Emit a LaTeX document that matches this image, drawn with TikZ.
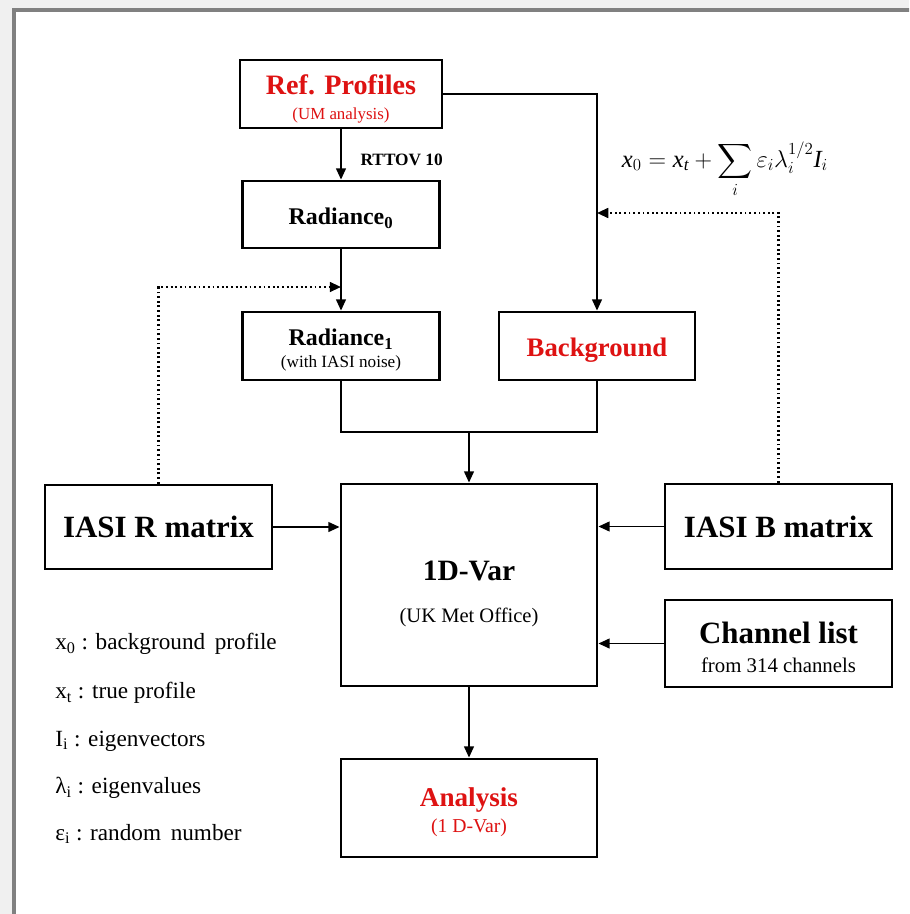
\documentclass[tikz,border=0pt]{standalone}
\usepackage{fontspec}
\setmainfont{Liberation Serif}
\usepackage{amsmath}
\usepackage{xcolor}
\usetikzlibrary{positioning, arrows.meta}
\definecolor{titlered}{RGB}{222,18,18}

\begin{document}
\begin{tikzpicture}[
    x=0.025cm, y=-0.025cm,
    box/.style={draw, line width=2pt, inner sep=0pt, align=center},
    conn/.style={line width=1.2pt},
    arr/.style={conn, -{Triangle[length=8pt, width=7pt]}},
    dotarr/.style={line width=1.5pt, dash pattern=on 1.3pt off 2pt, -{Triangle[length=8pt, width=7pt]}},
    legend/.style={anchor=west, inner sep=0pt, font=\fontsize{16.5}{19}\selectfont}
]
% frame
\useasboundingbox (0,0) rectangle (909,914);
\clip (0,0) rectangle (909,914);
\fill[gray!12] (0,0) rectangle (909,914);
\fill[white] (14,10) rectangle (930,930);
\draw[gray, line width=3pt] (14,930) -- (14,10) -- (930,10);

% boxes
\node[box, minimum width=5.05cm, minimum height=1.7cm, text=titlered,
      font=\fontsize{20}{18}\selectfont] (ref) at (341,94)
    {\rule{0pt}{21pt}\textbf{Ref. Profiles}\\{\fontsize{12}{14}\selectfont (UM analysis)}};
\node[box, minimum width=4.925cm, minimum height=1.675cm,
      font=\fontsize{17}{20}\selectfont\bfseries] (rad0) at (341,214.5)
    {\rule{0pt}{17pt}Radiance\textsubscript{0}};
\node[box, minimum width=4.925cm, minimum height=1.7cm,
      font=\fontsize{17}{15.5}\selectfont] (rad1) at (341,346)
    {\rule{0pt}{18pt}\textbf{Radiance\textsubscript{1}}\\{\fontsize{12.2}{14}\selectfont (with IASI noise)}};
\node[box, minimum width=4.9cm, minimum height=1.7cm, text=titlered,
      font=\fontsize{19}{22}\selectfont\bfseries] (bg) at (597,346) {\rule{0pt}{19pt}Background};
\node[box, minimum width=5.675cm, minimum height=2.1cm,
      font=\fontsize{22}{26}\selectfont\bfseries] (iasir) at (158.5,527) {IASI R matrix};
\node[box, minimum width=6.4cm, minimum height=5.05cm,
      font=\fontsize{21}{30}\selectfont] (var) at (469,585)
    {\rule{0pt}{27pt}\textbf{1D-Var}\\{\fontsize{14.6}{17}\selectfont (UK Met Office)}};
\node[box, minimum width=5.675cm, minimum height=2.125cm,
      font=\fontsize{22}{26}\selectfont\bfseries] (iasib) at (778.5,526.5) {IASI B matrix};
\node[box, minimum width=5.675cm, minimum height=2.175cm,
      font=\fontsize{22}{20.5}\selectfont] (chan) at (778.5,643.5)
    {\rule{0pt}{21pt}\textbf{Channel list}\\{\fontsize{14.8}{17}\selectfont from 314 channels}};
\node[box, minimum width=6.4cm, minimum height=2.45cm, text=titlered,
      font=\fontsize{19.3}{19}\selectfont] (ana) at (469,808)
    {\rule{0pt}{19.5pt}\textbf{Analysis}\\{\fontsize{14}{16}\selectfont (1 D-Var)}};

% formula
\node[inner sep=0pt, font=\fontsize{17.5}{20}\selectfont] (eqn) at (725,170)
    {$\mathit{x}_0 = \mathit{x}_{\mathit{t}} + \displaystyle\sum_i \varepsilon_i \lambda_i^{1/2} \mathit{I}_i$};

% legend
\node[legend] (lx0) at (55,644) {x\textsubscript{0} : background\, profile};
\node[legend] (lxt) at (55,693) {x\textsubscript{t} : true profile};
\node[legend] (lIi) at (55,741) {I\textsubscript{i} : eigenvectors};
\node[legend] (llam) at (55,788) {λ\textsubscript{i} : eigenvalues};
\node[legend] (leps) at (55,834) {ε\textsubscript{i} : random\, number};

% join points
\coordinate (rjoin) at (341,287);
\coordinate (bjoin) at (597,213);
\coordinate (merge) at (469,432);

% connectors
\draw[arr] (ref) -- node[pos=0.6, right=10pt, font=\fontsize{12.3}{14}\selectfont\bfseries] (rttov) {RTTOV 10} (rad0);
\draw[arr] (rad0) -- (rad1);
\draw[arr] (ref.east) -| (bg.north);
\draw[dotarr] (iasir.north) |- (rjoin);
\draw[dotarr] (iasib.north) |- (bjoin);
\draw[conn] (rad1.south) |- (merge) -| (bg.south);
\draw[arr] (merge) -- (var.north);
\draw[arr] (iasir.east) -- (iasir.east -| var.west);
\draw[arr] (iasib.west) -- (iasib.west -| var.east);
\draw[arr] (chan.west) -- (chan.west -| var.east);
\draw[arr] (var) -- (ana);
\end{tikzpicture}
\end{document}
